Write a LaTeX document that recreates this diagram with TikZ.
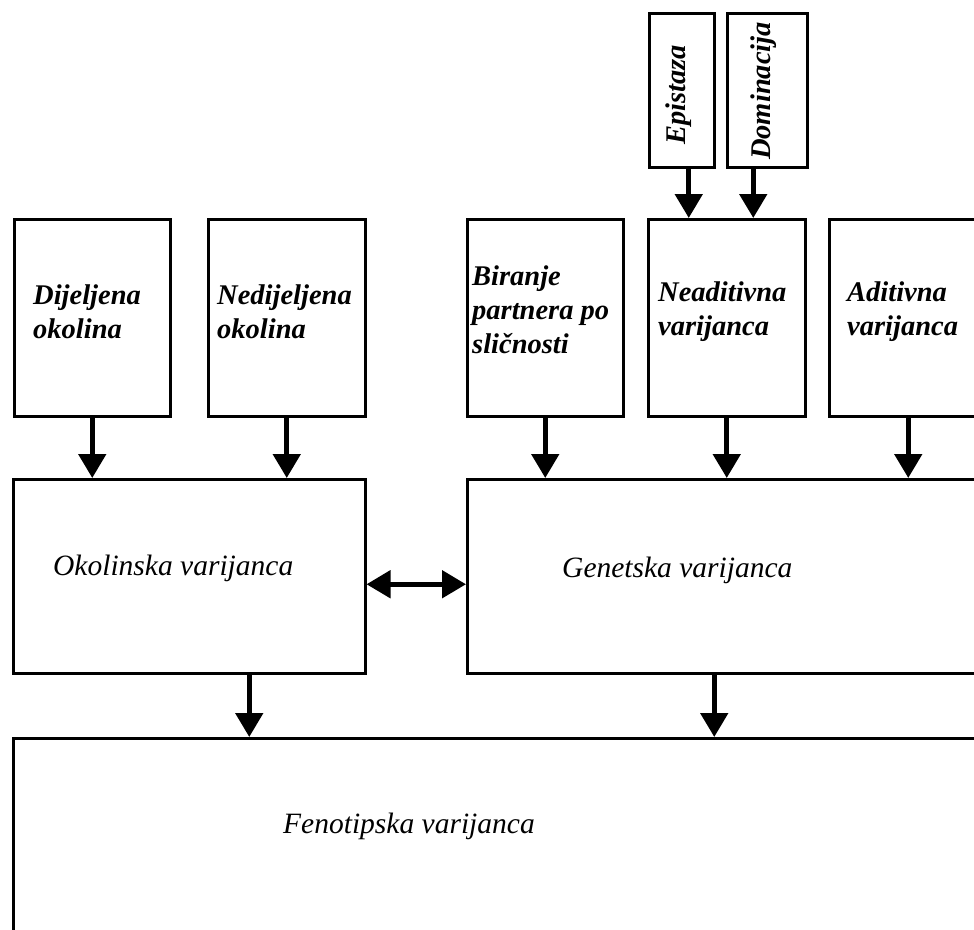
\documentclass[tikz,border=0pt]{standalone}
\usepackage{fontspec}
\setmainfont{Liberation Serif}
\usetikzlibrary{arrows.meta}

\begin{document}
\begin{tikzpicture}[x = 1pt, y = -1pt, > = {Triangle[width = 27pt, length = 24pt]},
		box/.style = {draw, line width = 2.5pt, anchor = north west, inner sep = 0pt},
		lbl/.style = {font = \fontsize{28.5}{34}\selectfont\bfseries\itshape, align = left, anchor = west, inner sep = 0pt},
		big/.style = {font = \fontsize{29.5}{34}\selectfont\itshape, anchor = base west, inner sep = 0pt},
		arr/.style = {line width = 5pt, ->}]
		\useasboundingbox (0, 0) rectangle (974, 929);
		\clip (0, 0) rectangle (974, 929);
		% gornji red
		\node [box, minimum width = 65pt, minimum height = 154pt] (epi) at (648, 12) {};
		\node [box, minimum width = 80pt, minimum height = 154pt] (dom) at (726, 12) {};
		\node [box, minimum width = 156pt, minimum height = 197pt] (dij) at (13, 218) {};
		\node [box, minimum width = 157pt, minimum height = 197pt] (ned) at (207, 218) {};
		\node [box, minimum width = 156pt, minimum height = 197pt] (bir) at (466, 218) {};
		\node [box, minimum width = 157pt, minimum height = 197pt] (nea) at (647, 218) {};
		\node [box, minimum width = 158pt, minimum height = 197pt] (adi) at (828, 218) {};
		% varijance
		\node [box, minimum width = 352pt, minimum height = 194pt] (oko) at (12, 478) {};
		\node [box, minimum width = 560pt, minimum height = 194pt] (gen) at (466, 478) {};
		\node [box, minimum width = 1000pt, minimum height = 250pt] (fen) at (12, 737) {};
		% tekst
		\node [lbl, rotate = 90, anchor = center] (epit) at (679, 95) {Epistaza};
		\node [lbl, rotate = 90, anchor = center] (domt) at (764, 91) {Dominacija};
		\node [lbl] (dijt) at (33, 312) {Dijeljena\\okolina};
		\node [lbl] (nedt) at (217, 312) {Nedijeljena\\okolina};
		\node [lbl] (birt) at (472, 310) {Biranje\\partnera po\\sličnosti};
		\node [lbl] (neat) at (658, 312) {Neaditivna\\varijanca};
		\node [lbl] (adit) at (847, 312) {Aditivna\\varijanca};
		\node [big] (okot) at (53, 575) {Okolinska varijanca};
		\node [big] (gent) at (562, 577) {Genetska varijanca};
		\node [big] (fent) at (283, 833) {Fenotipska varijanca};
		% strelice
		\draw [arr] ([xshift = 7pt]epi.south) -- ([xshift = 7pt]epi.south |- nea.north);
		\draw [arr] ([xshift = -14pt]dom.south) -- ([xshift = -14pt]dom.south |- nea.north);
		\foreach \n in {dij, ned}
			\draw [arr] (\n.south) -- (\n.south |- oko.north);
		\foreach \n in {bir, nea, adi}
			\draw [arr] (\n.south) -- (\n.south |- gen.north);
		\draw [line width = 5pt, <->] ([yshift = -8pt]oko.east) -- ([yshift = -8pt]oko.east -| gen.west);
		\draw [arr] ([xshift = 60pt]oko.south) -- ([xshift = 60pt]oko.south |- fen.north);
		\draw [arr] ([xshift = -33pt]gen.south) -- ([xshift = -33pt]gen.south |- fen.north);
	\end{tikzpicture}
\end{document}
